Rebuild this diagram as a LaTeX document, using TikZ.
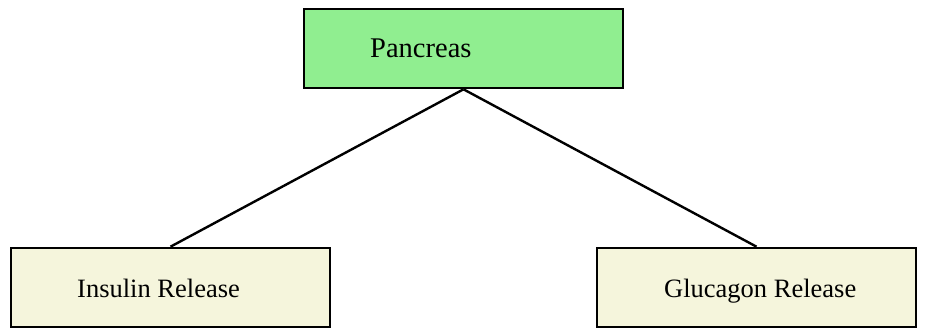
\documentclass[tikz,border=0pt]{standalone}
\usepackage{fontspec}
\setmainfont{Liberation Serif}
\definecolor{pancgreen}{HTML}{90EE90}
\definecolor{releasebeige}{HTML}{F5F5DC}
\begin{document}
\begin{tikzpicture}[x=1pt,y=-1pt,
  box/.style={draw=black, line width=2.6pt, minimum width=319pt, minimum height=79pt, inner sep=0pt},
  lbl/.style={anchor=base west, inner sep=0pt, font=\fontsize{26.5}{30}\selectfont},
  link/.style={draw=black, line width=2.4pt}]
  \useasboundingbox (0,0) rectangle (936,329);
  % boxes
  \node[box, fill=pancgreen] (pan) at (463.5,48.5) {};
  \node[box, fill=releasebeige] (ins) at (170.5,287.5) {};
  \node[box, fill=releasebeige] (glu) at (756.5,287.5) {};
  % connectors
  \draw[link] (pan.south) -- (ins.north);
  \draw[link] (pan.south) -- (glu.north);
  % labels
  \node[lbl, font=\fontsize{28.5}{32}\selectfont] (panlbl) at (370,57.5) {Pancreas};
  \node[lbl] (inslbl) at (77,297.5) {Insulin Release};
  \node[lbl] (glulbl) at (664,297.5) {Glucagon Release};
\end{tikzpicture}
\end{document}
